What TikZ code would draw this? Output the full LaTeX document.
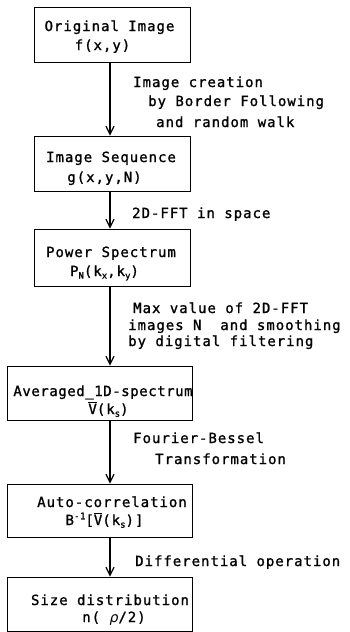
\documentclass[tikz,border=0pt]{standalone}
\usepackage{fontspec}
\setmonofont[LetterSpace=7,FakeBold=1.2]{DejaVu Sans Mono}
\usetikzlibrary{arrows.meta}
\newcommand\mydn[1]{\raisebox{-0.35ex}{\fontsize{9}{9}\selectfont #1}}
\newcommand\myup[1]{\raisebox{0.75ex}{\fontsize{9}{9}\selectfont #1}}
\newcommand\vbar{\ensuremath{\overline{\hbox{\ttfamily V}}}}
\begin{document}
\begin{tikzpicture}[x=1pt,y=-1pt,
  box/.style={draw, line width=0.9pt, inner sep=0pt},
  txt/.style={inner sep=0pt, anchor=base, font=\ttfamily\fontsize{14}{16}\selectfont},
  lbl/.style={inner sep=0pt, anchor=base west, font=\ttfamily\fontsize{14}{16}\selectfont},
  arr/.style={line width=1.8pt, -{Straight Barb[length=8pt,width=8pt,line width=1.2pt]}}]
\useasboundingbox (0,0) rectangle (350,632);
\coordinate (ax) at (110,0);
% boxes
\node[box, minimum width=156pt, minimum height=55pt] (b1) at (112,34.5) {};
\node[box, minimum width=156pt, minimum height=55pt] (b2) at (112,163.5) {};
\node[box, minimum width=156pt, minimum height=57pt] (b3) at (112,257.5) {};
\node[box, minimum width=185pt, minimum height=54pt] (b4) at (99.5,393) {};
\node[box, minimum width=185pt, minimum height=53pt] (b5) at (99.5,510.5) {};
\node[box, minimum width=185pt, minimum height=54pt] (b6) at (99.5,604) {};
% box texts
\node[txt] (t1a) at (109.5,31) {Original Image};
\node[txt] (t1b) at (102.5,50) {f(x,y)};
\node[txt] (t2a) at (111,162) {Image Sequence};
\node[txt] (t2b) at (104.5,182) {g(x,y,N)};
\node[txt] (t3a) at (111,257) {Power Spectrum};
\node[txt] (t3b) at (104.5,276) {P\mydn{N}(k\mydn{x},k\mydn{y})};
\node[txt] (t4a) at (103,396) {\addfontfeature{LetterSpace=4}Averaged\_1D-spectrum};
\node[txt] (t4b) at (108.5,414) {\vbar(k\mydn{s})};
\node[txt] (t5a) at (112,507) {Auto-correlation};
\node[txt] (t5b) at (104.5,525) {B\myup{-1}[\vbar(k\mydn{s})]};
\node[txt] (t6a) at (110,605) {Size distribution};
\node[txt] (t6b) at (114,622) {n( {\fontspec{DejaVu Sans}\itshape ρ}/2)};
% arrows
\draw[arr] (b1.south -| ax) -- (b2.north -| ax);
\draw[arr] (b2.south -| ax) -- (b3.north -| ax);
\draw[arr] (b3.south -| ax) -- (b4.north -| ax);
\draw[arr] (b4.south -| ax) -- (b5.north -| ax);
\draw[arr] (b5.south -| ax) -- (b6.north -| ax);
% labels
\node[lbl] (l1a) at (133,87) {Image creation};
\node[lbl] (l1b) at (148,106) {by Border Following};
\node[lbl] (l1c) at (156,127) {and random walk};
\node[lbl] (l2a) at (132,218) {2D-FFT in space};
\node[lbl] (l3a) at (133,313) {Max value of 2D-FFT};
\node[lbl] (l3b) at (128,330) {images N\ \ and smoothing};
\node[lbl] (l3c) at (128,346) {by digital filtering};
\node[lbl] (l4a) at (133,443) {Fourier-Bessel};
\node[lbl] (l4b) at (155,464) {Transformation};
\node[lbl] (l5a) at (135,566) {Differential operation};
\end{tikzpicture}
\end{document}
